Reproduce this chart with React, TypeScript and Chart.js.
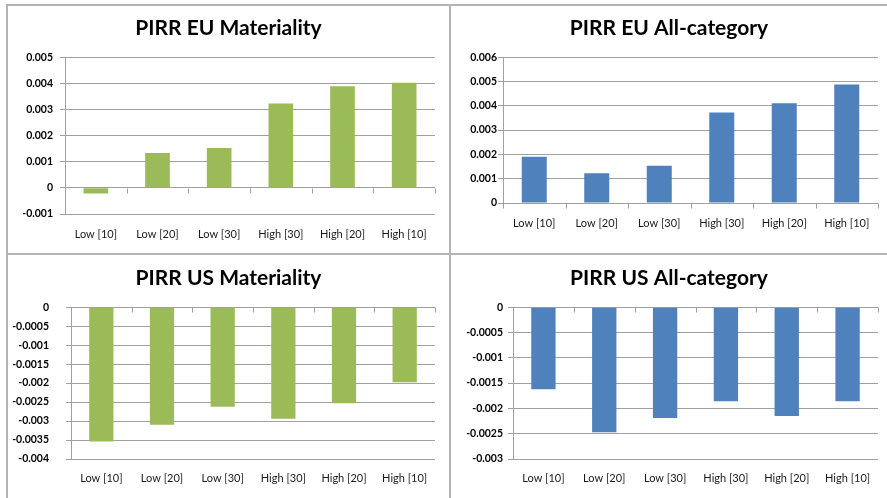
import React, { useEffect, useRef } from "react";
import { Chart, registerables } from "chart.js";

Chart.register(...registerables);

const categories = ["Low [10]", "Low [20]", "Low [30]", "High [30]", "High [20]", "High [10]"];
const euMateriality = [-0.00022, 0.00133, 0.00153, 0.00323, 0.00389, 0.00402];
const euAllCategory = [0.0019, 0.00122, 0.00153, 0.00372, 0.0041, 0.00488];
const usMateriality = [-0.00354, -0.0031, -0.00262, -0.00294, -0.00253, -0.00198];
const usAllCategory = [-0.00162, -0.00247, -0.00219, -0.00186, -0.00215, -0.00186];

const GREEN = "#9BBB59";
const BLUE = "#4F81BD";
const GRID = "#a0a0a0";
const FONT = "Lato, 'Open Sans', sans-serif";

type PanelCfg = {
  title: string;
  data: number[];
  color: string;
  min: number;
  max: number;
  step: number;
  left: number;
  top: number;
  w: number;
  h: number;
  yWidth: number;
  padRight: number;
  xHeight: number;
  xLabelPad: number;
  yLabelPad: number;
  titleTop: number;
  titleBottom: number;
};

const panels: PanelCfg[] = [
  { title: "PIRR EU Materiality", data: euMateriality, color: GREEN, min: -0.001, max: 0.005, step: 0.001,
    left: 8, top: 6, w: 441, h: 247, yWidth: 57, padRight: 14, xHeight: 39, xLabelPad: 14, yLabelPad: 7, titleTop: 10, titleBottom: 16 },
  { title: "PIRR EU All-category", data: euAllCategory, color: BLUE, min: 0, max: 0.006, step: 0.001,
    left: 451, top: 6, w: 436, h: 247, yWidth: 52, padRight: 9, xHeight: 50, xLabelPad: 14, yLabelPad: 1, titleTop: 10, titleBottom: 16 },
  { title: "PIRR US Materiality", data: usMateriality, color: GREEN, min: -0.004, max: 0, step: 0.0005,
    left: 8, top: 255, w: 441, h: 243, yWidth: 63, padRight: 14, xHeight: 39, xLabelPad: 13, yLabelPad: 17, titleTop: 11, titleBottom: 16 },
  { title: "PIRR US All-category", data: usAllCategory, color: BLUE, min: -0.003, max: 0, step: 0.0005,
    left: 451, top: 255, w: 436, h: 243, yWidth: 62, padRight: 9, xHeight: 39, xLabelPad: 13, yLabelPad: 5, titleTop: 11, titleBottom: 16 },
];

// Centre the title over the whole panel rather than the padded layout box.
const centreTitle = {
  id: "centreTitle",
  afterLayout(chart: any) {
    const t = chart.titleBlock;
    if (!t) return;
    t.left = 0;
    t.right = chart.width;
    t.width = chart.width;
  },
};

// Short tick marks at the category boundaries on the zero line (Excel style).
const zeroTicks = {
  id: "zeroTicks",
  afterDraw(chart: any) {
    const x = chart.scales.x;
    const y = chart.scales.y;
    const y0 = Math.round(y.getPixelForValue(0)) + 0.5;
    const ctx = chart.ctx;
    ctx.save();
    ctx.strokeStyle = GRID;
    ctx.lineWidth = 1;
    ctx.beginPath();
    const n = chart.data.labels.length;
    for (let i = 0; i <= n; i++) {
      const px = Math.round(x.getPixelForValue(i - 0.5)) + 0.5;
      ctx.moveTo(px, y0);
      ctx.lineTo(px, y0 + 5);
    }
    ctx.stroke();
    ctx.restore();
  },
};

function Panel({ cfg }: { cfg: PanelCfg }) {
  const ref = useRef<HTMLCanvasElement>(null);
  useEffect(() => {
    if (!ref.current) return;
    const chart = new Chart(ref.current, {
      type: "bar",
      data: {
        labels: categories,
        datasets: [{ data: cfg.data, backgroundColor: cfg.color, borderWidth: 0, barPercentage: 0.4, categoryPercentage: 1 }],
      },
      options: {
        animation: false,
        responsive: false,
        layout: { padding: { left: 0, right: cfg.padRight, top: 0, bottom: 0 } },
        plugins: {
          legend: { display: false },
          tooltip: { enabled: false },
          title: {
            display: true,
            text: cfg.title,
            color: "#000",
            font: { family: FONT, size: 21, weight: "bold", lineHeight: 1.2 },
            padding: { top: cfg.titleTop, bottom: cfg.titleBottom },
          },
        },
        scales: {
          x: {
            grid: { display: false, drawTicks: false },
            border: { display: false },
            ticks: { color: "#1a1a1a", font: { family: FONT, size: 11 }, padding: cfg.xLabelPad, maxRotation: 0 },
            afterFit: (s: any) => { s.height = cfg.xHeight; },
          },
          y: {
            min: cfg.min,
            max: cfg.max,
            grid: { color: GRID, tickLength: 5, drawTicks: true },
            border: { display: true, color: GRID },
            ticks: {
              stepSize: cfg.step,
              color: "#000",
              padding: cfg.yLabelPad,
              font: { family: FONT, size: 10.5, weight: "bold" },
              callback: (v: any) => String(Number(Number(v).toFixed(4))),
            },
            afterFit: (s: any) => { s.width = cfg.yWidth; },
          },
        },
      } as any,
      plugins: [centreTitle, zeroTicks],
    });
    return () => chart.destroy();
  }, [cfg]);
  return (
    <canvas
      ref={ref}
      width={cfg.w}
      height={cfg.h}
      style={{ position: "absolute", left: cfg.left, top: cfg.top, width: cfg.w, height: cfg.h }}
    />
  );
}

const line = (l: number, t: number, w: number, h: number) => (
  <div style={{ position: "absolute", left: l, top: t, width: w, height: h, background: "#b4b4b4" }} />
);

export default function App() {
  return (
    <div style={{ position: "absolute", left: 0, top: 0, width: 887, height: 498, background: "#fff", overflow: "hidden" }}>
      {line(6, 4, 881, 2)}
      {line(6, 4, 2, 494)}
      {line(449, 4, 2, 494)}
      {line(6, 253, 881, 2)}
      {panels.map((p, i) => (
        <Panel key={i} cfg={p} />
      ))}
    </div>
  );
}
